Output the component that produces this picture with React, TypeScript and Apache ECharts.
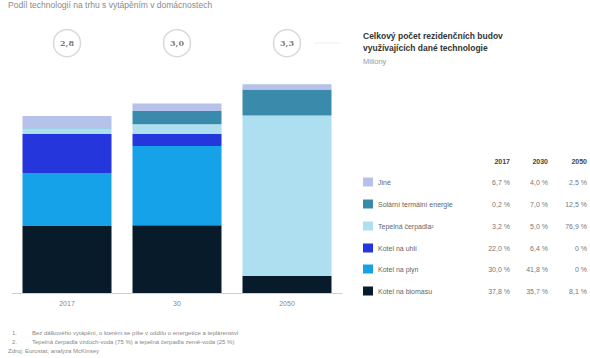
import React, { useEffect, useRef } from "react";
import * as echarts from "echarts";

const titleText = "Podíl technologií na trhu s vytápěním v domácnostech";
const categories = ["2017", "30", "2050"];
const totals = [2.8, 3.0, 3.3];
const totalLabels = ["2,8", "3,0", "3,3"];
const tableYears = ["2017", "2030", "2050"];
const technologies = [
  "Jiné",
  "Solární termální energie",
  "Tepelná čerpadla²",
  "Kotel na uhlí",
  "Kotel na plyn",
  "Kotel na biomasu",
];
const colors = ["#b7c2ea", "#3a8bab", "#addff0", "#2436dc", "#16a2e9", "#071b2b"];
const shareJine = [6.7, 4.0, 2.5];
const shareSolar = [0.2, 7.0, 12.5];
const shareHeatPump = [3.2, 5.0, 76.9];
const shareCoal = [22.0, 6.4, 0];
const shareGas = [30.0, 41.8, 0];
const shareBiomass = [37.8, 35.7, 8.1];
const shares = [shareJine, shareSolar, shareHeatPump, shareCoal, shareGas, shareBiomass];
const footnotes = [
  ["1.", "Bez dálkového vytápění, o kterém se píše v oddílu o energetice a teplárenství"],
  ["2.", "Tepelná čerpadla vzduch-voda (75 %) a tepelná čerpadla země-voda (25 %)"],
];
const sourceText = "Zdroj: Eurostat; analýza McKinsey";

const FONT = "Liberation Sans, Arial, sans-serif";

const fmt = (v: number) => (v === 0 ? "0 %" : v.toFixed(1).replace(".", ",") + " %");

export default function App() {
  const ref = useRef<HTMLDivElement>(null);
  useEffect(() => {
    if (!ref.current) return;
    const chart = echarts.init(ref.current, undefined, { renderer: "svg" });

    const order = [5, 4, 3, 2, 1, 0];
    const barSeries = order.map((i) => ({
      name: technologies[i],
      type: "bar",
      stack: "total",
      barWidth: 89,
      itemStyle: { color: colors[i] },
      data: shares[i].map((s, k) => +(totals[k] * s / 100).toFixed(4)),
    }));

    const graphic: any[] = [];
    graphic.push({
      type: "text", left: 8, top: 0,
      style: { text: titleText, font: `8.5px ${FONT}`, fill: "#8a8a8a" },
    });
    graphic.push({
      type: "text", left: 363, top: 30,
      style: {
        text: "Celkový počet rezidenčních budov\nvyužívajících dané technologie",
        font: `bold 8.5px ${FONT}`, fill: "#333", lineHeight: 12,
      },
    });
    graphic.push({
      type: "text", left: 363, top: 57,
      style: { text: "Miliony", font: `7.5px ${FONT}`, fill: "#999" },
    });
    graphic.push({
      type: "line", shape: { x1: 314, y1: 43, x2: 340, y2: 43 },
      style: { stroke: "#eeeeee", lineWidth: 1 },
    });
    const colRight = [510, 548, 587];
    tableYears.forEach((y, c) => {
      graphic.push({
        type: "text", x: colRight[c], y: 161,
        style: { text: y, font: `bold 7px ${FONT}`, fill: "#444", align: "right", verticalAlign: "middle" },
      });
    });
    const rowY = [182, 204, 226, 248, 269, 291];
    technologies.forEach((t, r) => {
      graphic.push({
        type: "rect", shape: { x: 363, y: rowY[r] - 4.5, width: 10, height: 9 },
        style: { fill: colors[r] },
      });
      graphic.push({
        type: "text", x: 378, y: rowY[r],
        style: { text: t, font: `7px ${FONT}`, fill: "#666", verticalAlign: "middle" },
      });
      shares[r].forEach((v, c) => {
        graphic.push({
          type: "text", x: colRight[c], y: rowY[r],
          style: { text: fmt(v), font: `7px ${FONT}`, fill: "#777", align: "right", verticalAlign: "middle" },
        });
      });
    });
    footnotes.forEach((f, i) => {
      graphic.push({
        type: "text", x: 12, y: 333 + i * 9,
        style: { text: f[0], font: `6px ${FONT}`, fill: "#888", verticalAlign: "middle" },
      });
      graphic.push({
        type: "text", x: 32, y: 333 + i * 9,
        style: { text: f[1], font: `6px ${FONT}`, fill: "#888", verticalAlign: "middle" },
      });
    });
    graphic.push({
      type: "text", x: 8, y: 351,
      style: { text: sourceText, font: `6px ${FONT}`, fill: "#888", verticalAlign: "middle" },
    });

    chart.setOption({
      animation: false,
      backgroundColor: "#ffffff",
      grid: { left: 12, width: 330, top: 40, bottom: 65 },
      xAxis: {
        type: "category",
        data: categories,
        axisLine: { lineStyle: { color: "#d0d0d0", width: 1 } },
        axisTick: { show: false },
        axisLabel: { color: "#888", fontSize: 7, margin: 7, fontFamily: FONT },
      },
      yAxis: { type: "value", min: 0, max: 4, show: false, splitLine: { show: false } },
      series: [
        ...barSeries,
        {
          type: "scatter",
          data: totals.map(() => 3.95),
          symbol: "circle",
          symbolSize: 27,
          itemStyle: { color: "#ffffff", borderColor: "#cfcfcf", borderWidth: 1.5 },
          label: {
            show: true,
            position: "inside",
            formatter: (p: any) => totalLabels[p.dataIndex],
            fontSize: 8,
            fontWeight: "bold",
            fontFamily: "DejaVu Serif, serif",
            color: "#555",
          },
          z: 10,
        },
      ],
      graphic,
    });
    return () => chart.dispose();
  }, []);
  return (
    <div
      ref={ref}
      style={{ position: "fixed", left: 0, top: 0, width: 590, height: 358 }}
    />
  );
}
